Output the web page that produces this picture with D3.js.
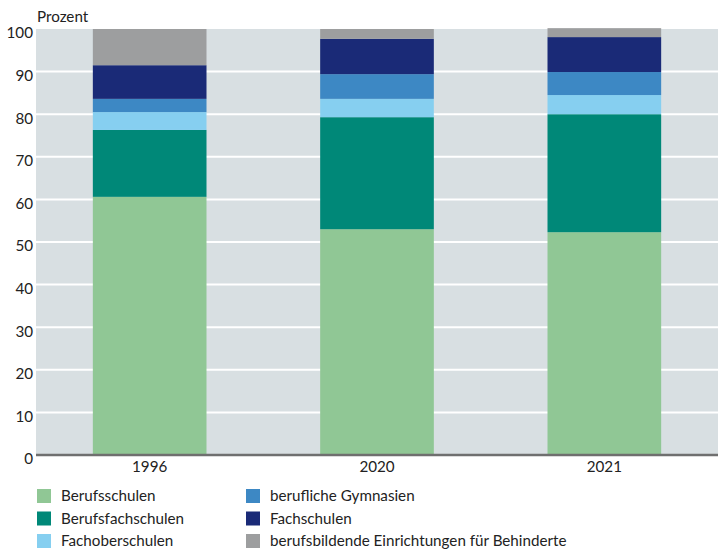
<!DOCTYPE html>
<html><head><meta charset="utf-8">
<script src="https://cdn.jsdelivr.net/npm/d3@7"></script>
<style>body{margin:0;background:#fff;} svg{display:block;font-family:Lato,"Noto Sans",sans-serif;}</style>
</head><body>
<svg id="c" width="725" height="557"></svg>
<script>
const years = ["1996","2020","2021"];
const seriesNames = ["Berufsschulen","Berufsfachschulen","Fachoberschulen","berufliche Gymnasien","Fachschulen","berufsbildende Einrichtungen für Behinderte"];
const colors = ["#90c795","#008878","#86cff0","#3d88c4","#1a2a77","#9d9e9f"];
const berufsschulen = [60.6, 53.0, 52.3];
const berufsfachschulen = [15.7, 26.3, 27.7];
const fachoberschulen = [4.2, 4.3, 4.5];
const beruflicheGymnasien = [3.1, 5.8, 5.4];
const fachschulen = [7.9, 8.3, 8.2];
const behinderte = [8.5, 2.3, 2.1];
const yTicks = [0,10,20,30,40,50,60,70,80,90,100];

const seriesVals = [berufsschulen, berufsfachschulen, fachoberschulen, beruflicheGymnasien, fachschulen, behinderte];
const table = years.map((y,i)=>{const o={year:y}; seriesNames.forEach((s,j)=>o[s]=seriesVals[j][i]); return o;});
const stack = d3.stack().keys(seriesNames)(table);

const FS = 15.2;
const svg = d3.select("#c");
const L=36, R=718, T=29, B=455;
const x = d3.scaleBand().domain(years).range([L,R]).paddingInner(0.5).paddingOuter(0.25);
const y = d3.scaleLinear().domain([0,100]).range([B,T]);

svg.append("rect").attr("x",L).attr("y",T).attr("width",R-L).attr("height",B-T).attr("fill","#d8dfe2");
svg.append("g").selectAll("line").data(yTicks.slice(1,-1)).join("line")
  .attr("x1",L).attr("x2",R).attr("y1",d=>y(d)).attr("y2",d=>y(d))
  .attr("stroke","#fff").attr("stroke-width",2);

svg.append("g").selectAll("g").data(stack).join("g").attr("fill",(d,i)=>colors[i])
  .selectAll("rect").data(d=>d).join("rect")
  .attr("x",d=>x(d.data.year)).attr("width",x.bandwidth())
  .attr("y",d=>y(d[1])).attr("height",d=>y(d[0])-y(d[1]));

svg.append("line").attr("x1",L).attr("x2",R).attr("y1",B).attr("y2",B).attr("stroke","#6f6f6f").attr("stroke-width",2.5);

const yAxis = d3.axisLeft(y).tickValues(yTicks).tickSize(0).tickPadding(3);
const ga = svg.append("g").attr("transform",`translate(${L},4)`).call(yAxis);
ga.select(".domain").remove();
ga.selectAll("text").attr("font-size",FS).attr("fill","#222").attr("font-family","Lato,sans-serif");

const xAxis = d3.axisBottom(x).tickSize(0).tickPadding(6);
const gx = svg.append("g").attr("transform",`translate(0,${B})`).call(xAxis);
gx.select(".domain").remove();
gx.selectAll("text").attr("font-size",FS).attr("fill","#222").attr("font-family","Lato,sans-serif");

svg.append("text").attr("x",37).attr("y",22).attr("font-size",FS).attr("fill","#222").text("Prozent");

const leg = svg.append("g");
seriesNames.forEach((s,i)=>{
  const col = Math.floor(i/3), row = i%3;
  const gx0 = col===0?37:246, gy0 = 489+row*22.5;
  leg.append("rect").attr("x",gx0).attr("y",gy0).attr("width",14).attr("height",14).attr("fill",colors[i]);
  leg.append("text").attr("x",gx0+24).attr("y",gy0+12).attr("font-size",FS).attr("fill","#222").text(s);
});
</script>
</body></html>
